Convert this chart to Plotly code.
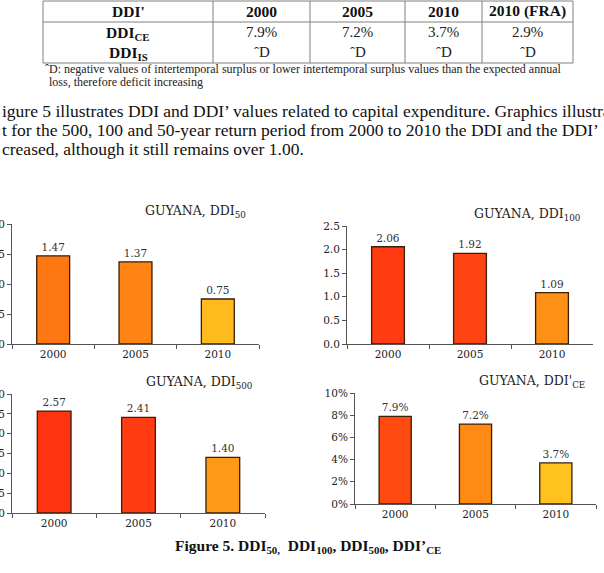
import plotly.graph_objects as go

W, H = 604, 573

years = ["2000", "2005", "2010"]
ddi50 = [1.47, 1.37, 0.75]
ddi100 = [2.06, 1.92, 1.09]
ddi500 = [2.57, 2.41, 1.40]
ddi_ce = [0.079, 0.072, 0.037]

table_header = ["DDI'", "2000", "2005", "2010", "2010 (FRA)"]
table_ce = ["7.9%", "7.2%", "3.7%", "2.9%"]
table_is = ["ˆD", "ˆD", "ˆD", "ˆD"]

colors50 = ["#ff7712", "#ff8414", "#ffbb1e"]
colors100 = ["#ff3c12", "#ff4414", "#ff9016"]
colors500 = ["#ff3310", "#ff3c12", "#ff9a16"]
colors_ce = ["#ff4a12", "#ff8a14", "#ffc21e"]

def px(x):
    return x / W

def py(y):
    return 1 - y / H

serif = "DejaVu Serif"
tserif = "Liberation Serif"

fig = go.Figure()

charts = [
    dict(vals=ddi50, cols=colors50, x0=12, x1=259, ytop=224, ybot=344, rng=[0, 2.0], dtick=0.5, fmt=".1f", tt="%{y:.2f}",
         title="GUYANA, DDI<sub>50</sub>", tx=195, ty=211),
    dict(vals=ddi100, cols=colors100, x0=347, x1=593, ytop=226, ybot=344, rng=[0, 2.5], dtick=0.5, fmt=".1f", tt="%{y:.2f}",
         title="GUYANA, DDI<sub>100</sub>", tx=527, ty=215),
    dict(vals=ddi500, cols=colors500, x0=12, x1=265, ytop=394, ybot=513, rng=[0, 3.0], dtick=0.5, fmt=".1f", tt="%{y:.2f}",
         title="GUYANA, DDI<sub>500</sub>", tx=199, ty=382),
    dict(vals=ddi_ce, cols=colors_ce, x0=355, x1=596, ytop=393, ybot=504, rng=[0, 0.10], dtick=0.02, fmt=".0%", tt="%{y:.1%}",
         title="GUYANA, DDI'<sub>CE</sub>", tx=532, ty=381),
]

annotations = []
layout_axes = {}
for i, c in enumerate(charts, start=1):
    xa = "x" if i == 1 else f"x{i}"
    ya = "y" if i == 1 else f"y{i}"
    fig.add_trace(go.Bar(
        x=years, y=c["vals"], xaxis=xa, yaxis=ya,
        marker=dict(color=c["cols"], line=dict(color="#3a1e08", width=1.3)),
        width=0.4,
        texttemplate=c["tt"], textposition="outside", cliponaxis=False,
        textfont=dict(family=serif, size=10.5, color="#333"),
        showlegend=False,
    ))
    layout_axes["xaxis" if i == 1 else f"xaxis{i}"] = dict(
        domain=[px(c["x0"]), px(c["x1"])], anchor=ya, type="category", automargin=False,
        showline=True, linecolor="#555", linewidth=1, ticks="outside", ticklen=4,
        tickcolor="#555", tickson="boundaries", showgrid=False,
        tickfont=dict(family=serif, size=10.5, color="#222"),
    )
    layout_axes["yaxis" if i == 1 else f"yaxis{i}"] = dict(
        domain=[py(c["ybot"]), py(c["ytop"])], anchor=xa, range=c["rng"], dtick=c["dtick"],
        tickformat=c["fmt"], showline=True, linecolor="#555", linewidth=1, ticks="outside",
        ticklen=4, tickcolor="#555", showgrid=False, zeroline=False, automargin=False,
        tickfont=dict(family=serif, size=10.5, color="#222"),
    )
    annotations.append(dict(x=px(c["tx"]), y=py(c["ty"]), xref="paper", yref="paper",
                            text=c["title"], showarrow=False, xanchor="center", yanchor="middle",
                            font=dict(family=serif, size=12.5, color="#222")))

# table
shapes = []
col_x = [43, 213, 310, 405, 482, 573]
row_y = [1, 22, 63]
for xv in col_x:
    shapes.append(dict(type="line", xref="paper", yref="paper", x0=px(xv), x1=px(xv), y0=py(row_y[0]), y1=py(row_y[-1]),
                       line=dict(color="#808080", width=1)))
for yv in row_y:
    shapes.append(dict(type="line", xref="paper", yref="paper", x0=px(col_x[0]), x1=px(col_x[-1]), y0=py(yv), y1=py(yv),
                       line=dict(color="#808080", width=1)))

centers = [(col_x[k] + col_x[k + 1]) / 2 for k in range(len(col_x) - 1)]
for k, t in enumerate(table_header):
    annotations.append(dict(x=px(centers[k]), y=py(11), xref="paper", yref="paper", text=f"<b>{t}</b>",
                            showarrow=False, xanchor="center", yanchor="middle",
                            font=dict(family=tserif, size=15.5, color="#111")))
annotations.append(dict(x=px(centers[0]), y=py(34), xref="paper", yref="paper", text="<b>DDI<sub>CE</sub></b>",
                        showarrow=False, xanchor="center", yanchor="middle", font=dict(family=tserif, size=15.5, color="#111")))
annotations.append(dict(x=px(centers[0]), y=py(53), xref="paper", yref="paper", text="<b>DDI<sub>IS</sub></b>",
                        showarrow=False, xanchor="center", yanchor="middle", font=dict(family=tserif, size=15.5, color="#111")))
for k in range(4):
    annotations.append(dict(x=px(centers[k + 1]), y=py(32), xref="paper", yref="paper", text=table_ce[k],
                            showarrow=False, xanchor="center", yanchor="middle", font=dict(family=tserif, size=15, color="#222")))
    annotations.append(dict(x=px(centers[k + 1]), y=py(52), xref="paper", yref="paper", text=table_is[k],
                            showarrow=False, xanchor="center", yanchor="middle", font=dict(family=tserif, size=15, color="#222")))

annotations.append(dict(x=px(43), y=py(69), xref="paper", yref="paper",
                        text="ˆD: negative values of intertemporal surplus or lower intertemporal surplus values than the expected annual",
                        showarrow=False, xanchor="left", yanchor="middle", font=dict(family=tserif, size=12, color="#222")))
annotations.append(dict(x=px(47), y=py(82), xref="paper", yref="paper",
                        text="loss, therefore deficit increasing",
                        showarrow=False, xanchor="left", yanchor="middle", font=dict(family=tserif, size=12, color="#222")))

para = [
    (111, "igure 5 illustrates DDI and DDI’ values related to capital expenditure. Graphics illustrate"),
    (130, "t for the 500, 100 and 50-year return period from 2000 to 2010 the DDI and the DDI’"),
    (149, "creased, although it still remains over 1.00."),
]
for yv, t in para:
    annotations.append(dict(x=0, y=py(yv), xref="paper", yref="paper", text=t, showarrow=False,
                            xanchor="left", yanchor="middle", font=dict(family=tserif, size=17.5, color="#111")))

annotations.append(dict(x=px(308), y=py(546), xref="paper", yref="paper",
                        text="<b>Figure 5. DDI<sub>50,</sub>  DDI<sub>100</sub>, DDI<sub>500</sub>, DDI’<sub>CE</sub></b>",
                        showarrow=False, xanchor="center", yanchor="middle", font=dict(family=tserif, size=15.5, color="#111")))

fig.update_layout(
    width=W, height=H, margin=dict(l=0, r=0, t=0, b=0),
    paper_bgcolor="white", plot_bgcolor="white",
    annotations=annotations, shapes=shapes, showlegend=False,
    **layout_axes,
)

fig.write_html("out.html")
